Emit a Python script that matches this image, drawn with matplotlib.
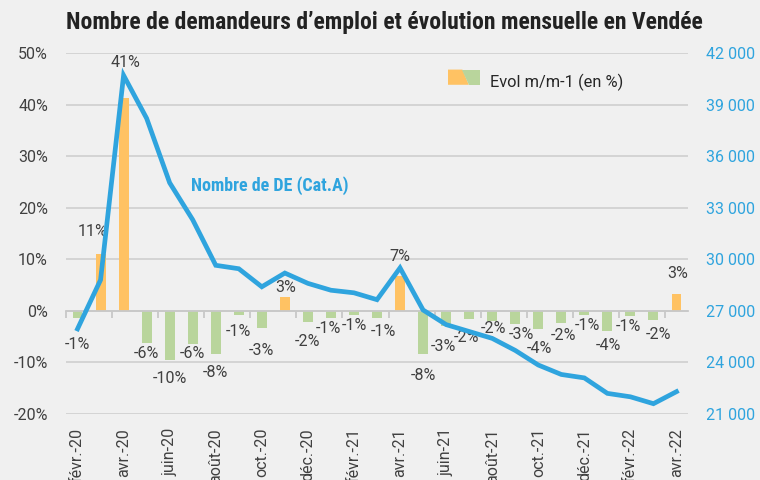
import matplotlib
matplotlib.use('Agg')
import matplotlib.pyplot as plt
import matplotlib.patches as mpatches
import numpy as np

plt.rcParams['font.family'] = ['Roboto', 'DejaVu Sans']
CONDENSE = ['Roboto Condensed', 'Liberation Sans Narrow', 'Roboto']

# --- données ---
mois = ['févr.-20', 'mars-20', 'avr.-20', 'mai-20', 'juin-20', 'juil.-20', 'août-20',
        'sept.-20', 'oct.-20', 'nov.-20', 'déc.-20', 'janv.-21', 'févr.-21', 'mars-21',
        'avr.-21', 'mai-21', 'juin-21', 'juil.-21', 'août-21', 'sept.-21', 'oct.-21',
        'nov.-21', 'déc.-21', 'janv.-22', 'févr.-22', 'mars-22', 'avr.-22']
evol = [-1.4, 11.1, 41.3, -6.2, -9.6, -6.4, -8.4, -0.8, -3.4, 2.7, -2.1, -1.4, -0.8, -1.4,
        6.7, -8.4, -2.9, -1.6, -1.9, -2.6, -3.6, -2.3, -0.8, -4.0, -1.0, -1.7, 3.3]
nb_de = [25950, 28800, 40700, 38200, 34450, 32300, 29650, 29450, 28400, 29200, 28600,
         28200, 28050, 27650, 29500, 27050, 26200, 25800, 25400, 24700, 23850, 23300,
         23100, 22200, 22000, 21600, 22300]

# décalage des étiquettes (pixels) comme dans le graphique d'origine
lbl_dy = [26, 22, 35, 11, 18, 10, 18, 17, 22, 9, 20, 10, 11, 13, 20, 21, 21, 18, 8, 10,
          19, 13, 11, 14, 10, 15, 20]
lbl_dx = [0, -8, 2, 0, 0, 0, 0, 0, 0, 1, 0, -2, 0, 6, 0, 0, -3, -3, 1, 6, 1, 2, 3, 1, -2, 5, 1]

ORANGE = '#ffc263'
VERT = '#b9d59c'
BLEU = '#2fa4de'
GRIS = '#404040'
FOND = '#f0f0f0'

fig = plt.figure(figsize=(7.6, 4.8), dpi=100, facecolor=FOND)
ax = fig.add_axes([66 / 760, 1 - 414 / 480, 622 / 760, 361 / 480], facecolor=FOND)

x = np.arange(len(mois))
couleurs = [ORANGE if v >= 0 else VERT for v in evol]
ax.bar(x, evol, width=0.43, color=couleurs, zorder=2)

for i, v in enumerate(evol):
    dy = lbl_dy[i] if v >= 0 else -lbl_dy[i]
    ax.annotate('{:.0f}%'.format(v), (x[i], v), xytext=(lbl_dx[i], dy),
                textcoords='offset pixels', ha='center', va='center',
                fontsize=11.5, color=GRIS, zorder=5)

ax.set_xlim(-0.5, len(mois) - 0.5)
ax.set_ylim(-20, 50)
ax.set_yticks(range(-20, 51, 10))
ax.set_yticklabels(['{}%'.format(v) for v in range(-20, 51, 10)])
ax.tick_params(axis='y', length=0, pad=13, labelsize=11.5, labelcolor=GRIS)
ax.yaxis.grid(True, color='#d2d2d2', lw=1.3)
ax.set_axisbelow(True)
for s in ['top', 'left', 'right']:
    ax.spines[s].set_visible(False)
ax.spines['bottom'].set_position(('data', 0))
ax.spines['bottom'].set_color('#c8c8c8')
ax.spines['bottom'].set_linewidth(1.3)
ax.set_xticks(np.arange(-0.5, len(mois) - 1, 2))
ax.tick_params(axis='x', length=5, width=1.3, color='#c8c8c8', labelbottom=False)

sec = ax.secondary_xaxis('bottom')
sec.set_xticks(x[::2])
sec.set_xticklabels(mois[::2], rotation=90, va='top')
sec.tick_params(length=0, pad=10, labelsize=11.5, labelcolor=GRIS)
sec.spines['bottom'].set_visible(False)

# axe de droite : nombre de demandeurs
ax2 = ax.twinx()
ax2.plot(x, nb_de, color=BLEU, lw=3.4, solid_joinstyle='miter', zorder=3)
ax2.set_ylim(21000, 42000)
ax2.set_yticks(range(21000, 42001, 3000))
ax2.set_yticklabels(['{:,}'.format(v).replace(',', ' ') for v in range(21000, 42001, 3000)])
ax2.tick_params(axis='y', length=0, pad=13, labelsize=11.5, labelcolor=BLEU)
for s in ax2.spines.values():
    s.set_visible(False)

ax2.text(8.35, 34300, 'Nombre de DE (Cat.A)', color=BLEU, fontsize=13,
         fontweight='bold', ha='center', va='center', family=CONDENSE)


class SplitHandler:
    def legend_artist(self, legend, orig_handle, fontsize, handlebox):
        x0, y0 = handlebox.xdescent, handlebox.ydescent
        w, h = handlebox.width, handlebox.height
        tr = handlebox.get_transform()
        p1 = mpatches.Polygon([[x0, y0], [x0 + 0.65 * w, y0], [x0 + 0.45 * w, y0 + h], [x0, y0 + h]],
                              closed=True, fc=ORANGE, ec='none', transform=tr)
        p2 = mpatches.Polygon([[x0 + 0.65 * w, y0], [x0 + w, y0], [x0 + w, y0 + h], [x0 + 0.45 * w, y0 + h]],
                              closed=True, fc=VERT, ec='none', transform=tr)
        handlebox.add_artist(p1)
        handlebox.add_artist(p2)
        return p1


leg_h = mpatches.Patch()
fig.legend([leg_h], ['Evol m/m-1 (en %)'], handler_map={leg_h: SplitHandler()},
           loc='center left', bbox_to_anchor=(448 / 760, 1 - 82 / 480), frameon=False,
           borderpad=0, borderaxespad=0, handlelength=1.95, handleheight=1.05,
           handletextpad=0.6, fontsize=11.8, labelcolor='#262626')

fig.text(384 / 760, 1 - 22 / 480,
         'Nombre de demandeurs d\u2019emploi et évolution mensuelle en Vendée',
         ha='center', va='center', fontsize=17, fontweight='bold', color='#222222',
         family=CONDENSE)

fig.savefig('out.png', dpi=100, facecolor=FOND)
